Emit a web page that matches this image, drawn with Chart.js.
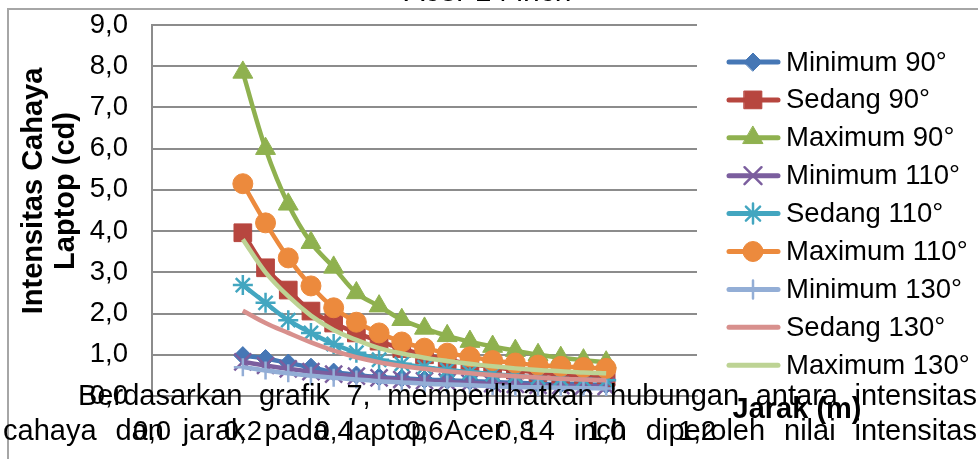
<!DOCTYPE html>
<html>
<head>
<meta charset="utf-8">
<title>Acer 14 inch</title>
<script src="https://cdn.jsdelivr.net/npm/chart.js@4.4.1/dist/chart.umd.min.js"></script>
<style>
  body { margin: 0; background: #fff; font-family: "Liberation Sans", Arial, sans-serif; }
  #wrap { position: relative; width: 978px; height: 459px; overflow: hidden; }
  #frame { position: absolute; left: 7px; top: 8px; width: 1000px; height: 500px;
           border-left: 2px solid #a6a6a6; border-top: 2px solid #a6a6a6; }
  #chart { position: absolute; left: 0; top: 0; }
  #title { position: absolute; left: 338px; top: -24px; width: 300px; text-align: center;
           font-size: 30px; line-height: 30px; color: #000; }
  .para { position: absolute; font-size: 29px; line-height: 29px; color: #000;
          text-align: justify; text-align-last: justify; }
</style>
</head>
<body>
<div id="wrap">
  <div id="frame"></div>
  <canvas id="chart" width="978" height="459"></canvas>
  <div id="title">Acer 14 inch</div>
  <div class="para" style="left:78px; top:381px; width:899px;">Berdasarkan grafik 7, memperlihatkan hubungan antara intensitas</div>
  <div class="para" style="left:3px; top:416px; width:974px;">cahaya dan jarak pada laptop Acer 14 inch diperoleh nilai intensitas</div>
</div>
<script>
// 1. Data
const jarak = [0.2, 0.25, 0.3, 0.35, 0.4, 0.45, 0.5, 0.55, 0.6, 0.65, 0.7, 0.75, 0.8, 0.85, 0.9, 0.95, 1.0];

const minimum90  = [0.98, 0.91, 0.80, 0.70, 0.58, 0.51, 0.46, 0.43, 0.40, 0.38, 0.36, 0.34, 0.32, 0.30, 0.29, 0.28, 0.27];
const sedang90   = [3.96, 3.11, 2.57, 2.06, 1.77, 1.53, 1.33, 1.15, 1.00, 0.88, 0.78, 0.70, 0.63, 0.57, 0.52, 0.48, 0.45];
const maximum90  = [7.85, 6.00, 4.65, 3.72, 3.12, 2.50, 2.18, 1.85, 1.64, 1.46, 1.32, 1.20, 1.10, 1.00, 0.93, 0.87, 0.82];
const minimum110 = [0.83, 0.74, 0.66, 0.59, 0.53, 0.48, 0.44, 0.40, 0.37, 0.34, 0.32, 0.30, 0.28, 0.26, 0.25, 0.24, 0.23];
const sedang110  = [2.69, 2.26, 1.84, 1.53, 1.26, 1.05, 0.88, 0.78, 0.70, 0.63, 0.58, 0.53, 0.49, 0.45, 0.42, 0.40, 0.38];
const maximum110 = [5.15, 4.20, 3.35, 2.67, 2.14, 1.79, 1.53, 1.31, 1.16, 1.04, 0.95, 0.86, 0.80, 0.75, 0.72, 0.69, 0.67];
const minimum130 = [0.70, 0.62, 0.55, 0.49, 0.44, 0.40, 0.36, 0.33, 0.30, 0.28, 0.26, 0.24, 0.22, 0.21, 0.20, 0.19, 0.18];
const sedang130  = [2.07, 1.77, 1.53, 1.30, 1.10, 0.94, 0.82, 0.73, 0.66, 0.60, 0.55, 0.51, 0.48, 0.45, 0.42, 0.40, 0.38];
const maximum130 = [3.80, 3.00, 2.42, 1.95, 1.60, 1.36, 1.16, 1.03, 0.93, 0.85, 0.78, 0.72, 0.67, 0.63, 0.60, 0.57, 0.55];

const seriesNames = ["Minimum 90°", "Sedang 90°", "Maximum 90°", "Minimum 110°", "Sedang 110°",
                     "Maximum 110°", "Minimum 130°", "Sedang 130°", "Maximum 130°"];
const seriesValues = [minimum90, sedang90, maximum90, minimum110, sedang110,
                      maximum110, minimum130, sedang130, maximum130];

const yTitle = ["Intensitas Cahaya", "Laptop (cd)"];
const xTitle = "Jarak (m)";

// 2. Styles
const colors  = ["#4677B5", "#B7463F", "#8FB14F", "#7B5E9E", "#43A6C0", "#EC8A3D", "#93AED6", "#D8908D", "#BDD394"];
const markers = ["rectRot", "rect", "triangle", "crossRot", "star", "circle", "cross", false, false];
const radii   = [9, 12.5, 11.5, 12, 10, 10, 9, 0, 0];
const font = '"Liberation Sans", Arial, sans-serif';

function fmt(v) {
    return Number(v).toFixed(1).replace(".", ",");
}

function buildDatasets() {
    return seriesNames.map((name, i) => {
        const lineOnly = !markers[i];
        const crossy = ["crossRot", "star", "cross"].includes(markers[i]);
        return {
            label: name,
            data: jarak.map((x, j) => ({ x: x, y: seriesValues[i][j] })),
            borderColor: colors[i],
            backgroundColor: colors[i],
            borderWidth: 4.5,
            tension: 0.35,
            pointStyle: markers[i] || "circle",
            pointRadius: radii[i],
            pointBackgroundColor: colors[i],
            pointBorderColor: colors[i],
            pointBorderWidth: crossy ? 2.5 : 1,
            order: seriesNames.length - i,
            _lineOnly: lineOnly
        };
    });
}

// 3. Legend + axis titles drawn in place
const extras = {
    id: "extras",
    afterDraw(chart) {
        const ctx = chart.ctx;
        ctx.save();
        ctx.fillStyle = "#000";
        ctx.font = "bold 29px " + font;
        ctx.textAlign = "center";
        ctx.textBaseline = "alphabetic";
        [42, 74].forEach((bx, i) => {
            ctx.save();
            ctx.translate(bx, 191);
            ctx.rotate(-Math.PI / 2);
            ctx.fillText(yTitle[i], 0, 0);
            ctx.restore();
        });
        ctx.fillText(xTitle, 797, 418);

        ctx.font = "27.5px " + font;
        ctx.textAlign = "left";
        ctx.textBaseline = "middle";
        chart.data.datasets.forEach((ds, i) => {
            const y = 62 + i * 37.9;
            ctx.strokeStyle = ds.borderColor;
            ctx.lineWidth = 5;
            ctx.lineCap = "round";
            ctx.beginPath();
            ctx.moveTo(729, y);
            ctx.lineTo(778, y);
            ctx.stroke();
            if (!ds._lineOnly) {
                ctx.fillStyle = ds.pointBackgroundColor;
                ctx.strokeStyle = ds.pointBorderColor;
                ctx.lineWidth = ds.pointBorderWidth;
                Chart.helpers.drawPoint(ctx, {
                    pointStyle: ds.pointStyle, radius: ds.pointRadius,
                    borderWidth: ds.pointBorderWidth, rotation: 0
                }, 753, y);
            }
            ctx.fillStyle = "#000";
            ctx.fillText(ds.label, 786, y + 1);
        });
        ctx.restore();
    }
};

// 4. Chart
function initChart() {
    const ctx = document.getElementById("chart").getContext("2d");
    new Chart(ctx, {
        type: "line",
        data: { datasets: buildDatasets() },
        options: {
            responsive: false,
            animation: false,
            layout: { padding: { top: 25, right: 281, left: 0, bottom: 0 } },
            plugins: { legend: { display: false }, tooltip: { enabled: false } },
            scales: {
                x: {
                    type: "linear",
                    min: 0, max: 1.2,
                    afterFit: (s) => { s.height = 63; s.paddingLeft = 0; s.paddingRight = 0; },
                    ticks: { stepSize: 0.2, padding: 20, color: "#000", font: { family: font, size: 27.5 }, callback: fmt },
                    grid: { display: false, drawTicks: false },
                    border: { color: "#8c8c8c", width: 2 }
                },
                y: {
                    min: 0, max: 9,
                    afterFit: (s) => { s.width = 152; s.paddingTop = 0; s.paddingBottom = 0; },
                    ticks: { stepSize: 1, padding: 24, color: "#000", font: { family: font, size: 27.5 }, callback: fmt },
                    grid: { color: "#8c8c8c", lineWidth: 2, drawTicks: false },
                    border: { color: "#8c8c8c", width: 2 }
                }
            }
        },
        plugins: [extras]
    });
}

window.onload = () => {
    initChart();
};
</script>
</body>
</html>
